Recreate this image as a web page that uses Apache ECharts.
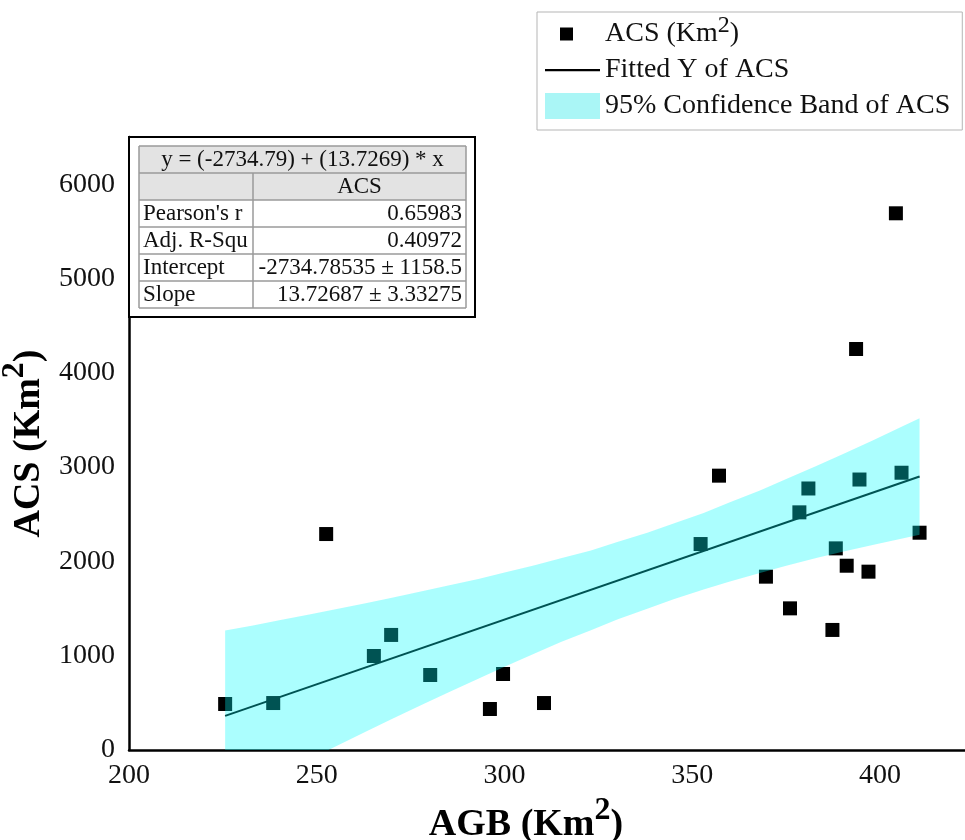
<!DOCTYPE html>
<html>
<head>
<meta charset="utf-8">
<title>ACS vs AGB</title>
<script src="https://cdn.jsdelivr.net/npm/echarts@6/dist/echarts.min.js"></script>
<style>
  html, body { margin: 0; padding: 0; background: #ffffff; }
  #chart { width: 965px; height: 840px; }
</style>
</head>
<body>
<div id="chart"></div>
<script>
// Observations: above-ground biomass (AGB) and ACS, both in km²
const agb = [225.6, 238.4, 252.5, 265.2, 269.8, 280.2, 296.1, 299.6, 310.5, 352.2, 357.1, 369.6,
             376.0, 378.5, 380.9, 387.3, 388.2, 391.1, 393.6, 394.5, 396.9, 404.2, 405.7, 410.5];
const acs = [488, 498, 2290, 997, 1220, 795, 435, 806, 498, 2184, 2909, 1838,
             1502, 2520, 2773, 1273, 2138, 1954, 4252, 2868, 1891, 5691, 2940, 2304];

// Linear fit coefficients (as reported in the stats table)
const fitIntercept = -2734.79;
const fitSlope = 13.7269;

// 95% confidence band edges
const bandX     = [225.6, 233, 240, 248, 255, 263, 270, 278, 285, 293, 300, 308, 315, 323, 330, 338, 345, 353, 360, 368, 375, 383, 390, 398, 405, 410.5];
const bandUpper = [1266, 1320, 1376, 1436, 1493, 1555, 1615, 1683, 1744, 1814, 1882, 1959, 2034, 2116, 2206, 2303, 2403, 2513, 2626, 2751, 2873, 3012, 3137, 3283, 3414, 3517];
const bandLower = [-542, -395, -256, -102, 38, 194, 328, 481, 611, 756, 884, 1023, 1144, 1270, 1384, 1497, 1599, 1702, 1788, 1877, 1953, 2035, 2101, 2175, 2236, 2283];

// Axis ranges
const xRange = { min: 200, max: 422.6, interval: 50 };
const yRange = { min: 0, max: 6500, interval: 1000 };

// Stats table text
const tableTitle = 'y = (-2734.79) + (13.7269) * x';
const tableHeader = 'ACS';
const tableLabels = ["Pearson's r", 'Adj. R-Squ', 'Intercept', 'Slope'];
const tableValues = ['0.65983', '0.40972', '-2734.78535 \u00b1 1158.5', '13.72687 \u00b1 3.33275'];

const SERIF = "'Liberation Serif', 'Times New Roman', 'DejaVu Serif', serif";

const xFitStart = Math.min.apply(null, agb);
const xFitEnd = Math.max.apply(null, agb);
const fitLine = [
  [xFitStart, fitIntercept + fitSlope * xFitStart],
  [xFitEnd, fitIntercept + fitSlope * xFitEnd]
];

const titleRich = {
  b: { fontFamily: SERIF, fontSize: 38, fontWeight: 'bold', color: '#000', lineHeight: 60, verticalAlign: 'middle' },
  s: { fontFamily: SERIF, fontSize: 32, fontWeight: 'bold', color: '#000', lineHeight: 26, verticalAlign: 'top' }
};

// Stats table drawn as graphic elements
function buildTable() {
  const left = 139, right = 466, split = 253, top = 146, rowH = 27;
  const rows = 2 + tableLabels.length;
  const bottom = top + rowH * rows;
  const gridColor = '#9a9a9a';
  const fillGray = '#e3e3e3';
  const font = { fontFamily: SERIF, fontSize: 23, fill: '#111' };
  const els = [];
  // outer frame
  els.push({ type: 'rect', shape: { x: 129, y: 137, width: right + 9 - 129, height: bottom + 9 - 137 },
             style: { fill: '#fff', stroke: '#000', lineWidth: 2 }, z: 10 });
  // title row and header row backgrounds
  els.push({ type: 'rect', shape: { x: left, y: top, width: right - left, height: rowH * 2 },
             style: { fill: fillGray }, z: 11 });
  els.push({ type: 'rect', shape: { x: left, y: top + rowH * 2, width: right - left, height: rowH * tableLabels.length },
             style: { fill: '#fff' }, z: 11 });
  // horizontal rules
  for (let i = 0; i <= rows; i++) {
    const y = top + rowH * i;
    els.push({ type: 'line', shape: { x1: left, y1: y, x2: right, y2: y },
               style: { stroke: gridColor, lineWidth: 1.5 }, z: 12 });
  }
  // vertical rules
  els.push({ type: 'line', shape: { x1: left, y1: top, x2: left, y2: bottom }, style: { stroke: gridColor, lineWidth: 1.5 }, z: 12 });
  els.push({ type: 'line', shape: { x1: right, y1: top, x2: right, y2: bottom }, style: { stroke: gridColor, lineWidth: 1.5 }, z: 12 });
  els.push({ type: 'line', shape: { x1: split, y1: top + rowH, x2: split, y2: bottom }, style: { stroke: gridColor, lineWidth: 1.5 }, z: 12 });
  // texts
  els.push({ type: 'text', x: (left + right) / 2, y: top + rowH / 2, z: 13,
             style: Object.assign({ text: tableTitle, align: 'center', verticalAlign: 'middle' }, font) });
  els.push({ type: 'text', x: (split + right) / 2, y: top + rowH * 1.5, z: 13,
             style: Object.assign({ text: tableHeader, align: 'center', verticalAlign: 'middle' }, font) });
  tableLabels.forEach(function (lab, i) {
    const cy = top + rowH * (2 + i) + rowH / 2;
    els.push({ type: 'text', x: left + 4, y: cy, z: 13,
               style: Object.assign({ text: lab, align: 'left', verticalAlign: 'middle' }, font) });
    els.push({ type: 'text', x: right - 4, y: cy, z: 13,
               style: Object.assign({ text: tableValues[i], align: 'right', verticalAlign: 'middle' }, font) });
  });
  return els;
}

const chart = echarts.init(document.getElementById('chart'), null, { renderer: 'canvas' });

chart.setOption({
  animation: false,
  backgroundColor: '#ffffff',
  grid: { left: 129, right: 0, top: 137, bottom: 90, containLabel: false, outerBoundsMode: 'none' },
  legend: {
    orient: 'vertical',
    left: 537,
    top: 12,
    padding: [2, 12, 10, 8],
    itemGap: 8,
    itemWidth: 55,
    itemHeight: 26,
    borderColor: '#b5b5b5',
    borderWidth: 1,
    selectedMode: false,
    textStyle: {
      fontFamily: SERIF, fontSize: 28, color: '#111',
      rich: {
        t: { fontFamily: SERIF, fontSize: 28, color: '#111', lineHeight: 40, verticalAlign: 'middle' },
        s: { fontFamily: SERIF, fontSize: 24, color: '#111', lineHeight: 20, verticalAlign: 'top' }
      }
    },
    formatter: function (name) {
      return name === 'ACS' ? '{t|ACS (Km}{s|2}{t|)}' : name;
    },
    data: [
      { name: 'ACS', icon: 'path://M0,0L0,0M55,26L55,26M15,6.5h13v13h-13z', itemStyle: { color: '#000', opacity: 1 } },
      { name: 'Fitted Y of ACS', icon: 'path://M0,0L0,0M55,26L55,26M0,12h55v2.2h-55z', itemStyle: { color: '#000', opacity: 1 } },
      { name: '95% Confidence Band of ACS', icon: 'rect', itemStyle: { color: '#aaf6f6' } }
    ]
  },
  xAxis: {
    type: 'value',
    min: xRange.min, max: xRange.max, interval: xRange.interval,
    name: '{b|AGB (Km}{s|2}{b|)}',
    nameLocation: 'middle',
    nameGap: 42,
    nameTextStyle: { rich: titleRich, padding: [0, 42, 0, 0] },
    axisLine: { show: true, onZero: false, lineStyle: { color: '#000', width: 2.5 } },
    axisTick: { show: false },
    splitLine: { show: false },
    axisLabel: { fontFamily: SERIF, fontSize: 28, color: '#111', margin: 12, showMaxLabel: false,
                 formatter: function (v) { return String(v); } }
  },
  yAxis: {
    type: 'value',
    min: yRange.min, max: yRange.max, interval: yRange.interval,
    name: '{b|ACS (Km}{s|2}{b|)}',
    nameLocation: 'middle',
    nameGap: 61,
    nameTextStyle: { rich: titleRich },
    axisLine: { show: true, onZero: false, lineStyle: { color: '#000', width: 2.5 } },
    axisTick: { show: false },
    splitLine: { show: false },
    axisLabel: { fontFamily: SERIF, fontSize: 28, color: '#111', margin: 14, showMaxLabel: false,
                 formatter: function (v) { return String(v); } }
  },
  series: [
    {
      name: 'ACS',
      type: 'scatter',
      symbol: 'rect',
      symbolSize: 14,
      itemStyle: { color: '#000', opacity: 1 },
      z: 2,
      data: agb.map(function (x, i) { return [x, acs[i]]; })
    },
    {
      name: 'Fitted Y of ACS',
      type: 'line',
      symbol: 'none',
      showSymbol: false,
      lineStyle: { color: '#000', width: 2 },
      itemStyle: { color: '#000' },
      z: 3,
      data: fitLine
    },
    {
      name: '95% Confidence Band of ACS',
      type: 'custom',
      z: 4,
      clip: true,
      itemStyle: { color: '#aaf6f6' },
      data: [[bandX[0], bandUpper[0]]],
      renderItem: function (params, api) {
        const pts = [];
        for (let i = 0; i < bandX.length; i++) pts.push(api.coord([bandX[i], bandUpper[i]]));
        for (let i = bandX.length - 1; i >= 0; i--) pts.push(api.coord([bandX[i], bandLower[i]]));
        const cs = params.coordSys;
        return {
          type: 'group',
          clipPath: { type: 'rect', shape: { x: cs.x, y: cs.y, width: cs.width, height: cs.height } },
          children: [{
            type: 'polygon',
            shape: { points: pts },
            style: { fill: 'rgba(0, 252, 252, 0.33)', stroke: null }
          }]
        };
      }
    }
  ],
  graphic: buildTable()
});
</script>
</body>
</html>
